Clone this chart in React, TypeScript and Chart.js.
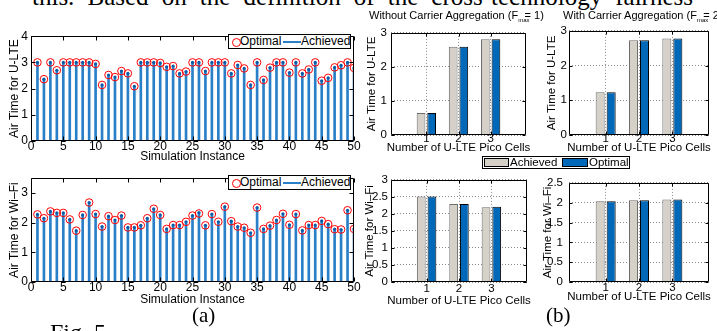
import React, { useEffect, useRef } from 'react';
import { Chart, registerables } from 'chart.js';

Chart.register(...registerables);

const SANS = '"Liberation Sans", Arial, Helvetica, sans-serif';
const SERIF = '"Liberation Serif", "Times New Roman", serif';

// ---------- data ----------
const instances = [1, 2, 3, 4, 5, 6, 7, 8, 9, 10, 11, 12, 13, 14, 15, 16, 17, 18, 19, 20, 21, 22, 23, 24, 25, 26, 27, 28, 29, 30, 31, 32, 33, 34, 35, 36, 37, 38, 39, 40, 41, 42, 43, 44, 45, 46, 47, 48, 49, 50];

const ulteOptimal = [3.0, 2.36, 3.0, 2.7, 3.0, 3.0, 3.0, 3.0, 3.0, 2.94, 2.14, 2.52, 2.44, 2.67, 2.58, 2.09, 3.0, 3.0, 3.0, 2.98, 2.83, 2.86, 2.58, 2.65, 3.0, 3.0, 2.67, 3.0, 3.0, 3.0, 2.58, 2.9, 2.77, 2.14, 3.0, 2.33, 2.8, 3.0, 3.0, 2.61, 3.0, 2.58, 2.73, 3.0, 2.3, 2.41, 2.81, 2.89, 3.0, 2.79];
const ulteAchieved = [3.0, 2.36, 3.0, 2.7, 3.0, 3.0, 3.0, 3.0, 3.0, 2.94, 2.14, 2.52, 2.44, 2.67, 2.58, 2.09, 3.0, 3.0, 3.0, 2.98, 2.83, 2.86, 2.58, 2.65, 3.0, 3.0, 2.67, 3.0, 3.0, 3.0, 2.58, 2.9, 2.77, 2.14, 3.0, 2.33, 2.8, 3.0, 3.0, 2.61, 3.0, 2.58, 2.73, 3.0, 2.3, 2.41, 2.81, 2.89, 3.0, 2.79];

const wifiOptimal = [2.28, 2.15, 2.38, 2.33, 2.33, 2.11, 1.73, 2.26, 2.68, 2.29, 1.87, 2.22, 2.09, 2.24, 1.84, 1.84, 1.91, 2.15, 2.47, 2.26, 1.79, 1.92, 1.92, 2.03, 2.24, 2.31, 1.91, 2.29, 2.03, 2.54, 2.05, 1.87, 1.83, 1.66, 2.51, 1.79, 1.9, 2.09, 2.3, 1.93, 2.29, 1.74, 1.92, 1.92, 2.06, 1.95, 1.78, 1.77, 2.42, 1.79];
const wifiAchieved = [2.28, 2.15, 2.38, 2.33, 2.33, 2.11, 1.73, 2.26, 2.68, 2.29, 1.87, 2.22, 2.09, 2.24, 1.84, 1.84, 1.91, 2.15, 2.47, 2.26, 1.79, 1.92, 1.92, 2.03, 2.24, 2.34, 1.91, 2.29, 2.03, 2.54, 2.05, 1.87, 1.83, 1.66, 2.51, 1.79, 1.9, 2.09, 2.3, 1.93, 2.29, 1.74, 1.92, 1.92, 2.06, 1.95, 1.78, 1.77, 2.42, 1.79];

const picoCells = [1, 2, 3];
const ulteNoCaAchieved = [0.65, 2.59, 2.81];
const ulteNoCaOptimal = [0.65, 2.59, 2.81];
const ulteCaAchieved = [1.23, 2.73, 2.78];
const ulteCaOptimal = [1.23, 2.73, 2.78];
const wifiNoCaAchieved = [2.51, 2.29, 2.2];
const wifiNoCaOptimal = [2.51, 2.29, 2.21];
const wifiCaAchieved = [2.04, 2.06, 2.08];
const wifiCaOptimal = [2.04, 2.06, 2.08];

const stemXTicks = [0, 5, 10, 15, 20, 25, 30, 35, 40, 45, 50];
const stemUlteYTicks = [0, 1, 2, 3, 4];
const stemWifiYTicks = [0, 1, 2, 3];
const barUlteYTicks = [0, 1, 2, 3];
const barWifiNoCaYTicks = [0, 0.5, 1, 1.5, 2, 2.5, 3];
const barWifiCaYTicks = [0, 0.5, 1, 1.5, 2, 2.5];

// ---------- styles ----------
const STEM_BLUE = '#2a80c8';
const STEM_DOT = '#0a5aa5';
const RED = '#ff0000';
const BAR_GREY = '#d5d1c9';
const BAR_GREY_EDGE = '#6d6d6d';
const BAR_BLUE = '#0068b8';
const GRID = '#8a8a8a';

const boxPlugin = {
  id: 'matlabBox',
  afterDatasetsDraw(chart: any, _args: any, opts: any) {
    const { ctx, chartArea: a, scales } = chart;
    const len = opts.tickLen ?? 4;
    ctx.save();
    ctx.strokeStyle = '#000';
    ctx.lineWidth = 1;
    const L = Math.round(a.left) + 0.5;
    const R = Math.round(a.right) - 0.5;
    const T = Math.round(a.top) + 0.5;
    const B = Math.round(a.bottom) - 0.5;
    ctx.beginPath();
    ctx.rect(L, T, R - L, B - T);
    for (const t of scales.x.ticks) {
      const p = Math.round(scales.x.getPixelForValue(t.value)) + 0.5;
      ctx.moveTo(p, B); ctx.lineTo(p, B - len);
      ctx.moveTo(p, T); ctx.lineTo(p, T + len);
    }
    for (const t of scales.y.ticks) {
      const p = Math.round(scales.y.getPixelForValue(t.value)) + 0.5;
      ctx.moveTo(L, p); ctx.lineTo(L + len, p);
      ctx.moveTo(R, p); ctx.lineTo(R - len, p);
    }
    ctx.stroke();
    ctx.restore();
  },
  afterDraw(chart: any, _args: any, opts: any) {
    const { ctx, chartArea: a } = chart;
    ctx.save();
    ctx.fillStyle = '#000';
    ctx.font = `${opts.titleFont}px ${SANS}`;
    ctx.textAlign = 'center';
    ctx.textBaseline = 'middle';
    ctx.fillText(opts.xTitle, (a.left + a.right) / 2, opts.xTitleY);
    ctx.translate(opts.yTitleX, (a.top + a.bottom) / 2);
    ctx.rotate(-Math.PI / 2);
    ctx.fillText(opts.yTitle, 0, 0);
    ctx.restore();
  },
};

type Spec = {
  kind: 'stem' | 'bar';
  L: number; T: number; R: number; B: number;
  padL: number; padT: number; padR: number; padB: number;
  xMin: number; xMax: number; xTicks: number[];
  yMin: number; yMax: number; yTicks: number[];
  xTitle: string; yTitle: string;
  tickFont: number; titleFont: number;
  xTickPad: number; yTickPad: number;
  xTitleCY: number; yTitleCX: number;
  tickLen: number;
  a: number[]; b: number[]; xs: number[];
};

function pts(xs: number[], ys: number[]) {
  return xs.map((x, i) => ({ x, y: ys[i] }));
}

function buildConfig(s: Spec): any {
  const grid = s.kind === 'bar';
  const ox = s.L - s.padL;
  const oy = s.T - s.padT;
  const datasets: any[] = s.kind === 'stem'
    ? [
        { type: 'scatter', label: 'Optimal', data: pts(s.xs, s.b), pointRadius: 3.8, pointBorderColor: RED, pointBackgroundColor: 'rgba(0,0,0,0)', pointBorderWidth: 1, order: 0 },
        { type: 'scatter', label: 'Achieved marker', data: pts(s.xs, s.a), pointRadius: 1.6, pointBackgroundColor: STEM_DOT, pointBorderWidth: 0, order: 1 },
        { type: 'bar', label: 'Achieved', data: pts(s.xs, s.a), backgroundColor: STEM_BLUE, barThickness: 2, borderWidth: 0, order: 2 },
      ]
    : [
        { type: 'bar', label: 'Achieved', data: pts(s.xs, s.a), backgroundColor: BAR_GREY, borderColor: BAR_GREY_EDGE, borderWidth: 1, categoryPercentage: 0.66, barPercentage: 0.82 },
        { type: 'bar', label: 'Optimal', data: pts(s.xs, s.b), backgroundColor: BAR_BLUE, borderColor: '#000', borderWidth: 1, categoryPercentage: 0.66, barPercentage: 0.82 },
      ];
  return {
    type: 'bar',
    data: { datasets },
    plugins: [boxPlugin],
    options: {
      responsive: false,
      animation: false,
      devicePixelRatio: 1,
      layout: { autoPadding: false, padding: { left: 0, top: s.padT, right: s.padR, bottom: 0 } },
      plugins: {
        legend: { display: false },
        tooltip: { enabled: false },
        matlabBox: {
          tickLen: s.tickLen,
          titleFont: s.titleFont,
          xTitle: s.xTitle,
          yTitle: s.yTitle,
          xTitleY: s.xTitleCY - oy,
          yTitleX: s.yTitleCX - ox,
        },
      },
      scales: {
        x: {
          type: 'linear',
          min: s.xMin,
          max: s.xMax,
          offset: false,
          afterBuildTicks: (sc: any) => { sc.ticks = s.xTicks.map((v) => ({ value: v })); },
          afterFit: (sc: any) => { sc.height = s.padB; },
          ticks: { autoSkip: false, maxRotation: 0, padding: s.xTickPad, color: '#000', font: { family: SANS, size: s.tickFont }, callback: (v: any) => String(v) },
          grid: { display: grid, drawTicks: false, offset: false, color: GRID, lineWidth: 1 },
          border: { display: false, dash: [1, 2] },
          title: { display: false },
        },
        y: {
          type: 'linear',
          min: s.yMin,
          max: s.yMax,
          afterBuildTicks: (sc: any) => { sc.ticks = s.yTicks.map((v) => ({ value: v })); },
          afterFit: (sc: any) => { sc.width = s.padL; },
          ticks: { autoSkip: false, padding: s.yTickPad, color: '#000', font: { family: SANS, size: s.tickFont }, callback: (v: any) => String(v) },
          grid: { display: grid, drawTicks: false, color: GRID, lineWidth: 1 },
          border: { display: false, dash: [1, 2] },
          title: { display: false },
        },
      },
    },
  };
}

function ChartPanel({ spec }: { spec: Spec }) {
  const ref = useRef<HTMLCanvasElement>(null);
  useEffect(() => {
    const chart = new Chart(ref.current as HTMLCanvasElement, buildConfig(spec));
    return () => chart.destroy();
  }, []);
  const w = spec.R - spec.L + spec.padL + spec.padR;
  const h = spec.B - spec.T + spec.padT + spec.padB;
  return (
    <canvas
      ref={ref}
      width={w}
      height={h}
      style={{ position: 'absolute', left: spec.L - spec.padL, top: spec.T - spec.padT, width: w, height: h }}
    />
  );
}

const stemBase = {
  kind: 'stem' as const,
  padT: 6, padR: 10, padL: 31,
  xMin: 0, xMax: 50, xTicks: stemXTicks,
  xTitle: 'Simulation Instance',
  tickFont: 12, titleFont: 12,
  xTickPad: -2, yTickPad: 3, tickLen: 4,
  xs: instances,
};

const panelA: Spec = { ...stemBase, L: 31, T: 32, R: 354, B: 141, padB: 26, xTitleCY: 157, yTitleCX: 14.5, yMin: 0, yMax: 4, yTicks: stemUlteYTicks, yTitle: 'Air Time for U-LTE', a: ulteAchieved, b: ulteOptimal };
const panelB: Spec = { ...stemBase, L: 31, T: 174, R: 354, B: 282, padB: 28, xTitleCY: 300, yTitleCX: 14.5, yMin: 0, yMax: 3.5, yTicks: stemWifiYTicks, yTitle: 'Air Time for Wi\u2013Fi', a: wifiAchieved, b: wifiOptimal };

const barBase = {
  kind: 'bar' as const,
  padT: 6, padR: 14, padL: 34, padB: 28,
  xMin: -0.1, xMax: 4.1, xTicks: picoCells,
  xTitle: 'Number of U-LTE Pico Cells',
  tickFont: 11.5, titleFont: 11.5,
  tickLen: 3,
  xs: picoCells,
};

const panelC: Spec = { ...barBase, L: 391, T: 28, R: 526, B: 135, xTickPad: -3, yTickPad: 4, xTitleCY: 148, yTitleCX: 372, yMin: 0, yMax: 3, yTicks: barUlteYTicks, yTitle: 'Air Time for U-LTE', a: ulteNoCaAchieved, b: ulteNoCaOptimal };
const panelD: Spec = { ...barBase, L: 569, T: 28, R: 709, B: 135, xTickPad: -3, yTickPad: 2, xTitleCY: 148, yTitleCX: 552, yMin: 0, yMax: 3, yTicks: barUlteYTicks, yTitle: 'Air Time for U-LTE', a: ulteCaAchieved, b: ulteCaOptimal };
const panelE: Spec = { ...barBase, L: 391, T: 176, R: 527, B: 282, xTickPad: 0, yTickPad: 3, xTitleCY: 301, yTitleCX: 370, yMin: 0, yMax: 3, yTicks: barWifiNoCaYTicks, yTitle: 'Air Time for Wi\u2013Fi', a: wifiNoCaAchieved, b: wifiNoCaOptimal };
const panelF: Spec = { ...barBase, L: 569, T: 176, R: 709, B: 282, xTickPad: -1, yTickPad: 6, xTitleCY: 297, yTitleCX: 547.5, yMin: 0, yMax: 2.5, yTicks: barWifiCaYTicks, yTitle: 'Air Time for Wi\u2013Fi', a: wifiCaAchieved, b: wifiCaOptimal };

function StemLegend({ left, top }: { left: number; top: number }) {
  return (
    <div style={{ position: 'absolute', left, top, width: 123, height: 15, boxSizing: 'border-box', border: '1px solid #000', background: '#fff', fontFamily: SANS, fontSize: 12, color: '#000' }}>
      <span style={{ position: 'absolute', left: 3, top: 3, width: 7, height: 7, border: `1px solid ${RED}`, borderRadius: '50%' }} />
      <span style={{ position: 'absolute', left: 11, top: -1, lineHeight: '15px' }}>Optimal</span>
      <span style={{ position: 'absolute', left: 54, top: 6, width: 18, height: 2, background: STEM_BLUE }} />
      <span style={{ position: 'absolute', left: 72, top: -1, lineHeight: '15px' }}>Achieved</span>
    </div>
  );
}

function CaTitle({ left, prefix, n }: { left: number; prefix: string; n: string }) {
  return (
    <div style={{ position: 'absolute', left, top: 8, whiteSpace: 'nowrap', fontFamily: SANS, fontSize: 11, lineHeight: '14px', color: '#000' }}>
      {prefix} Carrier Aggregation (F
      <span style={{ fontSize: 6, position: 'relative', top: 3 }}>max</span>
      <span style={{ marginLeft: -5 }}>= {n})</span>
    </div>
  );
}

export default function App() {
  return (
    <div style={{ position: 'absolute', left: 0, top: 0, width: 717, height: 331, overflow: 'hidden', background: '#fff' }}>
      <div style={{ position: 'absolute', left: 32, top: -16, width: 661, fontFamily: SERIF, fontSize: 25, lineHeight: '25px', textAlign: 'justify', textAlignLast: 'justify' as any, color: '#000' }}>
        this. Based on the definition of the cross-technology fairness
      </div>

      <ChartPanel spec={panelA} />
      <ChartPanel spec={panelB} />
      <ChartPanel spec={panelC} />
      <ChartPanel spec={panelD} />
      <ChartPanel spec={panelE} />
      <ChartPanel spec={panelF} />

      <StemLegend left={228} top={34} />
      <StemLegend left={228} top={175} />

      <CaTitle left={369} prefix="Without" n="1" />
      <CaTitle left={563} prefix="With" n="2" />

      <div style={{ position: 'absolute', left: 482, top: 156, width: 148, height: 13, boxSizing: 'border-box', border: '1px solid #000', background: '#fff', fontFamily: SANS, fontSize: 11.5, color: '#000' }}>
        <span style={{ position: 'absolute', left: 1, top: 1, width: 25, height: 9, boxSizing: 'border-box', border: '1px solid #000', background: BAR_GREY }} />
        <span style={{ position: 'absolute', left: 27, top: -2, lineHeight: '14px' }}>Achieved</span>
        <span style={{ position: 'absolute', left: 79, top: 1, width: 26, height: 9, boxSizing: 'border-box', border: '1px solid #000', background: BAR_BLUE }} />
        <span style={{ position: 'absolute', left: 106, top: -2, lineHeight: '14px' }}>Optimal</span>
      </div>

      <div style={{ position: 'absolute', left: 192, top: 305, fontFamily: SERIF, fontSize: 21, lineHeight: '21px', color: '#000' }}>(a)</div>
      <div style={{ position: 'absolute', left: 546, top: 305, fontFamily: SERIF, fontSize: 21, lineHeight: '21px', color: '#000' }}>(b)</div>
      <div style={{ position: 'absolute', left: 50, top: 320, fontFamily: SERIF, fontSize: 24, lineHeight: '24px', color: '#000' }}>Fig. 5</div>
    </div>
  );
}
